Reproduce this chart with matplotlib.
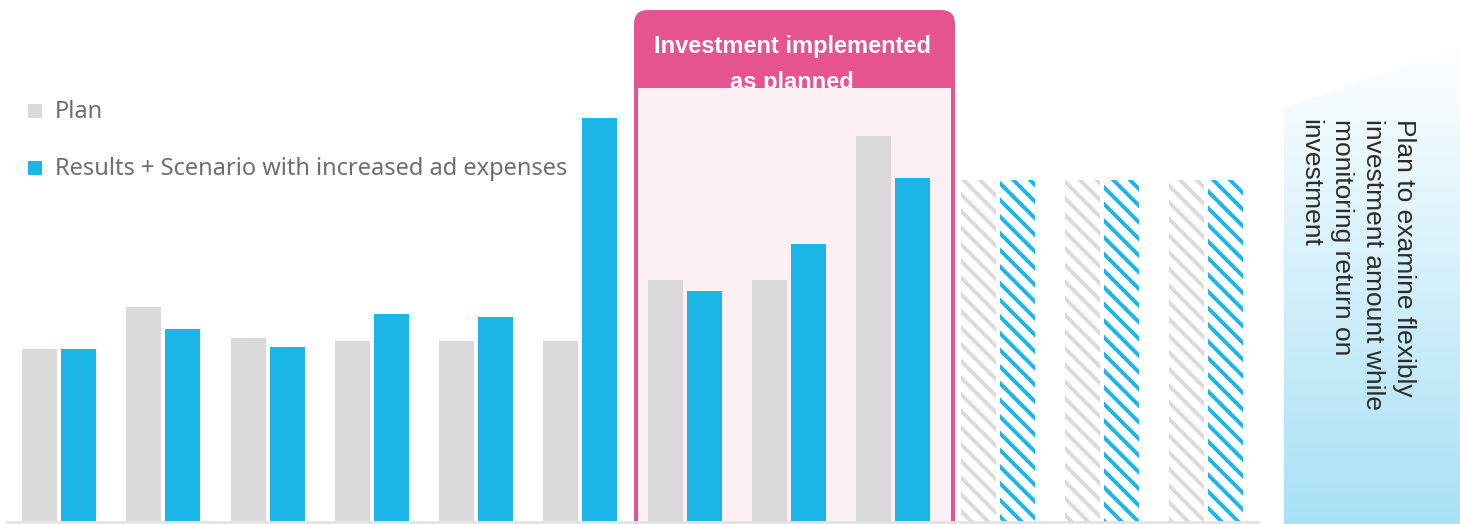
import numpy as np
import matplotlib
matplotlib.use("Agg")
import matplotlib.pyplot as plt
from matplotlib.patches import FancyBboxPatch, Rectangle, Polygon

# data (bar heights, arbitrary units)
periods = list(range(12))
plan = [173, 215, 184, 181, 181, 181, 242, 242, 386, 342, 342, 342]
results = [173, 193, 175, 208, 205, 404, 231, 278, 344, 342, 342, 342]
forecast = [False] * 9 + [True] * 3
legend_labels = ['Plan', 'Results + Scenario with increased ad expenses']
box_title = ['Investment implemented', 'as planned']
side_note = 'Plan to examine flexibly\ninvestment amount while\nmonitoring return on\ninvestment'

GRAY = '#d9d9d9'
GRAY_HATCH = '#dadada'
BLUE = '#1bb5e8'
PINK = '#e55491'
PINK_LIGHT = '#fcf0f5'

plt.rcParams['hatch.linewidth'] = 2.8

W, H = 1460, 524
fig = plt.figure(figsize=(W / 100, H / 100), dpi=100)

# background decoration layer in pixel coords
deco = fig.add_axes([0, 0, 1, 1], zorder=0)
deco.axis('off')

box = FancyBboxPatch((634, 10), 321, 540, boxstyle='round,pad=0,rounding_size=14',
                     facecolor=PINK, edgecolor='none', zorder=1)
deco.add_patch(box)
for i, line in enumerate(box_title):
    deco.text(792, 47 + i * 35, line, color='white', fontsize=17, fontweight='bold',
              family='Liberation Sans', ha='center', va='center', zorder=2)
deco.add_patch(Rectangle((638, 88), 313, 450, facecolor=PINK_LIGHT, edgecolor='none', zorder=3))

# gradient side panel
grad = np.linspace(0, 1, 256).reshape(-1, 1)
top = np.array([1.0, 1.0, 1.0])
bot = np.array([168, 225, 246]) / 255
img = top + (bot - top) * grad[:, :, None]
im = deco.imshow(img, extent=(1284, W, H, 40), aspect='auto', zorder=1)
panel = Polygon([(1284, 108), (W, 46), (W, H), (1284, H)], closed=True,
                facecolor='none', edgecolor='none')
deco.add_patch(panel)
im.set_clip_path(panel)
deco.set_xlim(0, W)
deco.set_ylim(H, 0)
deco.text(1416, 119, side_note, rotation=270, color='#2b2b2b', fontsize=19,
          family='Liberation Sans', ha='right', va='top', multialignment='left',
          linespacing=1.38, zorder=2)

# legend
for i, (lab, col) in enumerate(zip(legend_labels, [GRAY, BLUE])):
    y = 111 + i * 57
    deco.add_patch(Rectangle((28, y - 7), 14, 14, facecolor=col, edgecolor='none'))
    deco.text(55, y + 1, lab, color='#6e6e6e', fontsize=17, family='Noto Sans',
              ha='left', va='center')

# main bar chart
ax = fig.add_axes([6.85 / W, 2 / H, 1251.5 / W, 520 / H], zorder=1)
ax.patch.set_visible(False)
x = np.array(periods)
bw = 0.336
off = 0.187
for xi, p, r, f in zip(x, plan, results, forecast):
    if f:
        ax.bar(xi - off, p, bw, facecolor='white', edgecolor=GRAY_HATCH, hatch='\\\\', linewidth=0)
        ax.bar(xi + off, r, bw, facecolor='white', edgecolor=BLUE, hatch='\\\\', linewidth=0)
    else:
        ax.bar(xi - off, p, bw, color=GRAY, linewidth=0)
        ax.bar(xi + off, r, bw, color=BLUE, linewidth=0)

ax.set_xlim(-0.5, 11.5)
ax.set_ylim(0, 520)
for s in ['top', 'right', 'left']:
    ax.spines[s].set_visible(False)
ax.spines['bottom'].set_color('#e3e3e3')
ax.spines['bottom'].set_linewidth(2)
ax.set_xticks([])
ax.set_yticks([])

fig.savefig('out.png', dpi=100)
